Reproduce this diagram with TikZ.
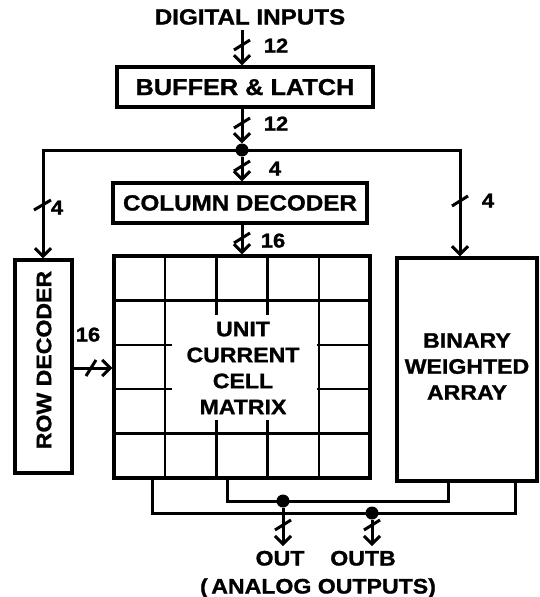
\documentclass[tikz,border=0pt]{standalone}
\usepackage{fontspec}
\newfontfamily\labfont[FakeStretch=1.1,FakeBold=1.2]{Liberation Sans}
\usetikzlibrary{arrows.meta}
\begin{document}
\begin{tikzpicture}[x=1pt,y=-1pt,
  box/.style={draw, line width=3.4pt, inner sep=0pt, text height=15pt, text depth=0pt,
    font=\labfont\bfseries\fontsize{21}{26}\selectfont},
  txt/.style={inner sep=0pt, font=\labfont\bfseries\fontsize{21}{26}\selectfont},
  mtxt/.style={txt, align=center},
  num/.style={inner sep=0pt, anchor=center, text height=15pt, text depth=0pt,
    font=\labfont\bfseries\fontsize{20}{24}\selectfont},
  conn/.style={line width=3pt},
  barb/.tip={Straight Barb[length=8pt,width=16pt,line width=3pt]},
  arr/.style={conn, -barb},
  gridline/.style={line width=2.4pt},
  tick/.style={line width=3pt},
  dot/.style={circle, fill, inner sep=0pt, minimum size=13pt},
  ]
\useasboundingbox (0,0) rectangle (539,597);

% title
\node[txt, anchor=base, font=\labfont\bfseries\fontsize{22}{26}\selectfont] (din) at (250,24.5) {DIGITAL INPUTS};

% boxes
\node[box, minimum width=256pt, minimum height=40pt, text height=16pt,
  font=\labfont\bfseries\fontsize{23}{26}\selectfont] (buf) at (245,87) {BUFFER \& LATCH};
\node[box, minimum width=254pt, minimum height=40pt,
  font=\labfont\bfseries\fontsize{22}{26}\selectfont] (cold) at (240,203) {COLUMN DECODER};
\node[box, minimum width=57pt, minimum height=213pt] (rowdec) at (43.5,366.5) {};
\node[txt, rotate=90] (rowtxt) at (44,360) {ROW DECODER};
\node[box, minimum width=256pt, minimum height=222pt] (ucm) at (242,367) {};
\node[box, minimum width=140pt, minimum height=223pt] (bwa) at (467,369.5) {};
\node[mtxt] (bwatxt) at (467,366.5) {BINARY\\WEIGHTED\\ARRAY};

% matrix grid
\foreach \x in {165.2,318.8} \draw[gridline] (\x,256) -- (\x,478);
\foreach \y in {300.4,433.6} \draw[gridline] (114,\y) -- (370,\y);
\foreach \x in {216.4,267.6} {
  \draw[gridline] (\x,256) -- (\x,315);
  \draw[gridline] (\x,420) -- (\x,478);
}
\foreach \y in {344.8,389.2} {
  \draw[gridline] (114,\y) -- (172,\y);
  \draw[gridline] (317,\y) -- (370,\y);
}
\node[mtxt] (ucmtxt) at (243,368) {UNIT\\CURRENT\\CELL\\MATRIX};

% coordinates
\coordinate (lane) at (242,0);
\coordinate (inp) at (242,30);
\coordinate (busL) at (43,150);
\coordinate (busR) at (460,150);
\coordinate (rowpt) at (0,368);
\node[dot] (jn) at (242,150) {};

% top connectors
\draw[arr] (inp) -- (buf.north -| lane);
\draw[arr] (buf.south -| lane) -- (jn.north);
\draw[conn, barb-barb] (rowdec.north -| busL) -- (busL) -- (busR) -- (bwa.north -| busR);
\draw[arr] (jn) -- (cold.north -| lane);
\draw[arr] (cold.south -| lane) -- (ucm.north -| lane);
\draw[arr] (rowdec.east |- rowpt) -- (ucm.west |- rowpt);

% ticks
\draw[tick] (242,45) ++(-8,5) -- ++(16,-10);
\draw[tick] (242,123) ++(-8,5) -- ++(16,-10);
\draw[tick] (242,166) ++(-8,5) -- ++(16,-10);
\draw[tick] (242,238) ++(-8,5) -- ++(16,-10);
\draw[tick] (43,205) ++(-9,5) -- ++(17,-10);
\draw[tick] (460,201) ++(-8,5) -- ++(16,-10);
\draw[tick] (91,368) ++(-5,8) -- ++(10,-16);
\draw[tick] (283,525) ++(-8,5) -- ++(16,-10);
\draw[tick] (372,525) ++(-8,5) -- ++(16,-10);

% width labels
\node[num] (n1) at (276,45) {12};
\node[num] (n2) at (276,123) {12};
\node[num] (n3) at (275,168) {4};
\node[num] (n4) at (273,240) {16};
\node[num] (n5) at (57,207) {4};
\node[num] (n6) at (488,200) {4};
\node[num] (n7) at (88,334) {16};

% outputs
\coordinate (oL1) at (227,501);
\coordinate (oR1) at (448,501);
\coordinate (oL2) at (152,513);
\coordinate (oR2) at (515,513);
\draw[conn] (ucm.south -| oL1) -- (oL1) -- (oR1) -- (bwa.south -| oR1);
\draw[conn] (ucm.south -| oL2) -- (oL2) -- (oR2) -- (bwa.south -| oR2);
\node[dot] (o1) at (283,501) {};
\node[dot] (o2) at (372,513) {};
\coordinate (e1) at (283,546);
\coordinate (e2) at (372,546);
\draw[arr] (o1) -- (e1);
\draw[arr] (o2) -- (e2);
\node[txt, anchor=base] (outa) at (280,565.5) {OUT};
\node[txt, anchor=base] (outb) at (363,565.5) {OUTB};
\node[txt, anchor=base] (ana) at (318,593.5) {(\,ANALOG OUTPUTS)};
\end{tikzpicture}
\end{document}
